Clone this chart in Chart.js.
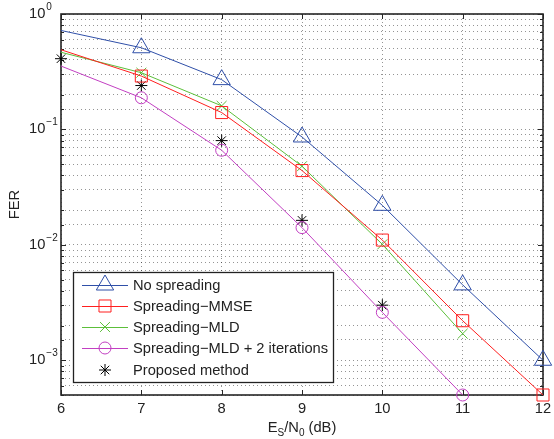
<!DOCTYPE html>
<html><head><meta charset="utf-8">
<script src="https://cdn.jsdelivr.net/npm/chart.js@4.4.0/dist/chart.umd.min.js"></script>
<style>html,body{margin:0;padding:0;background:#fff}#wrap{width:554px;height:439px}</style>
</head><body><div id="wrap"><canvas id="c" width="554" height="439"></canvas></div>
<script>
const ebn0 = [6, 7, 8, 9, 10, 11, 12];
const noSpreading = [0.72, 0.51, 0.27, 0.086, 0.022, 0.0045, 0.001];
const spreadingMMSE = [0.49, 0.29, 0.14, 0.044, 0.011, 0.0022, 0.0005];
const spreadingMLD = [0.466, 0.31, 0.16, 0.048, 0.0101, 0.0017];
const spreadingMLD2 = [0.354, 0.188, 0.066, 0.0141, 0.0026, 0.0005];
const proposed = [0.41, 0.24, 0.08, 0.0163, 0.0030];
const seriesNames = ['No spreading', 'Spreading\u2212MMSE', 'Spreading\u2212MLD', 'Spreading\u2212MLD + 2 iterations', 'Proposed method'];
const yDecadeExponents = [0, -1, -2, -3];
const xTitleParts = [['E', false], ['S', true], ['/N', false], ['0', true], [' (dB)', false]];
const yTitle = 'FER';

const FONT = '"Liberation Sans", Arial, Helvetica, sans-serif';
const MAIN = 14.7, SMALL = 10;
const styles = [
  {color: '#2f4fa8', style: 'triangle', r: 10},
  {color: '#ff1f1f', style: 'rect', r: 8.5},
  {color: '#5cbf3a', style: 'crossRot', r: 7},
  {color: '#c23fc2', style: 'circle', r: 6},
  {color: '#000000', style: 'star', r: 6}
];
const allSeries = [noSpreading, spreadingMMSE, spreadingMLD, spreadingMLD2, proposed];
const pts = vals => vals.map((v, i) => ({x: ebn0[i], y: v}));

const datasets = allSeries.map((vals, k) => {
  const s = styles[k];
  const isLine = k < 4;
  return {
    label: seriesNames[k],
    data: pts(vals),
    borderColor: s.color,
    backgroundColor: 'rgba(0,0,0,0)',
    borderWidth: 1,
    showLine: isLine,
    tension: 0,
    pointStyle: s.style,
    pointRadius: ctx => (isLine && ctx.dataIndex === 0) ? 0 : s.r,
    pointHoverRadius: ctx => (isLine && ctx.dataIndex === 0) ? 0 : s.r,
    pointBorderWidth: 1,
    pointBorderColor: s.color,
    pointBackgroundColor: 'rgba(0,0,0,0)',
    clip: false
  };
});

const frame = {
  id: 'frame',
  beforeDatasetsDraw(chart) {
    const {ctx, chartArea: a, scales: {x, y}} = chart;
    ctx.save();
    ctx.strokeStyle = '#262626';
    ctx.lineWidth = 1;
    ctx.beginPath();
    ebn0.forEach(v => {
      const px = Math.round(x.getPixelForValue(v)) + 0.5;
      ctx.moveTo(px, a.bottom); ctx.lineTo(px, a.bottom - 5);
      ctx.moveTo(px, a.top); ctx.lineTo(px, a.top + 5);
    });
    y.ticks.forEach(t => {
      const py = Math.round(y.getPixelForValue(t.value)) + 0.5;
      const lg = Math.log10(t.value);
      const len = Math.abs(lg - Math.round(lg)) < 1e-9 ? 5 : 3;
      ctx.moveTo(a.left, py); ctx.lineTo(a.left + len, py);
      ctx.moveTo(a.right, py); ctx.lineTo(a.right - len, py);
    });
    ctx.stroke();
    ctx.lineWidth = 1.6;
    ctx.strokeRect(a.left, a.top, a.right - a.left, a.bottom - a.top);
    ctx.fillStyle = '#222';
    ctx.textBaseline = 'middle';
    ctx.textAlign = 'left';
    yDecadeExponents.forEach(e => {
      const py = y.getPixelForValue(Math.pow(10, e));
      ctx.font = MAIN + 'px ' + FONT;
      const x0 = 29;
      ctx.fillText('10', x0, py);
      const w = ctx.measureText('10').width;
      ctx.font = SMALL + 'px ' + FONT;
      ctx.fillText(e === 0 ? '0' : '\u2212' + Math.abs(e), x0 + w + 1, py - 7);
    });
    ctx.textBaseline = 'alphabetic';
    let total = 0;
    xTitleParts.forEach(([t, sub]) => { ctx.font = (sub ? SMALL : MAIN) + 'px ' + FONT; total += ctx.measureText(t).width; });
    let cx = (a.left + a.right) / 2 - total / 2;
    const base = 432;
    xTitleParts.forEach(([t, sub]) => {
      ctx.font = (sub ? SMALL : MAIN) + 'px ' + FONT;
      ctx.fillText(t, cx, sub ? base + 4 : base);
      cx += ctx.measureText(t).width;
    });
    ctx.restore();
  }
};

const legendBox = {
  id: 'legendBox',
  afterDraw(chart) {
    const ctx = chart.ctx;
    ctx.save();
    ctx.fillStyle = '#fff';
    ctx.fillRect(73, 272, 260, 110);
    ctx.strokeStyle = '#222';
    ctx.lineWidth = 1.3;
    ctx.strokeRect(73.5, 272.5, 260, 110);
    const rows = [285, 306, 327, 348, 370];
    rows.forEach((ry, k) => {
      const s = styles[k];
      ctx.strokeStyle = s.color;
      ctx.fillStyle = 'rgba(0,0,0,0)';
      ctx.lineWidth = 1;
      if (k < 4) {
        ctx.beginPath(); ctx.moveTo(82, ry + 0.5); ctx.lineTo(128, ry + 0.5); ctx.stroke();
      }
      Chart.helpers.drawPoint(ctx, {pointStyle: s.style, radius: s.r, rotation: 0, borderWidth: 1}, 105, ry);
      ctx.fillStyle = '#222';
      ctx.font = MAIN + 'px ' + FONT;
      ctx.textBaseline = 'middle';
      ctx.textAlign = 'left';
      ctx.fillText(seriesNames[k], 133, ry + 1);
    });
    ctx.restore();
  }
};

new Chart(document.getElementById('c'), {
  type: 'line',
  data: {datasets},
  options: {
    responsive: false,
    animation: false,
    layout: {padding: {left: 0, right: 9, top: 14, bottom: 0}},
    plugins: {legend: {display: false}, tooltip: {enabled: false}},
    scales: {
      x: {
        type: 'linear', min: 6, max: 12,
        ticks: {stepSize: 1, color: '#222', font: {family: FONT, size: MAIN}, padding: 5, maxRotation: 0},
        grid: {color: 'rgba(0,0,0,0.42)', drawTicks: false, lineWidth: 1},
        border: {display: false, dash: [1, 3]},
        afterFit: s => { s.height = 44; s.paddingLeft = 0; s.paddingRight = 0; }
      },
      y: {
        type: 'logarithmic', min: 0.0005, max: 1,
        ticks: {display: false, autoSkip: false},
        grid: {color: 'rgba(0,0,0,0.42)', drawTicks: false, lineWidth: 1},
        border: {display: false, dash: [1, 3]},
        title: {display: true, text: yTitle, color: '#222', font: {family: FONT, size: MAIN}, padding: {top: 6, bottom: 0}},
        afterFit: s => { s.width = 61; s.paddingTop = 0; s.paddingBottom = 0; }
      }
    }
  },
  plugins: [frame, legendBox]
});
</script></body></html>
